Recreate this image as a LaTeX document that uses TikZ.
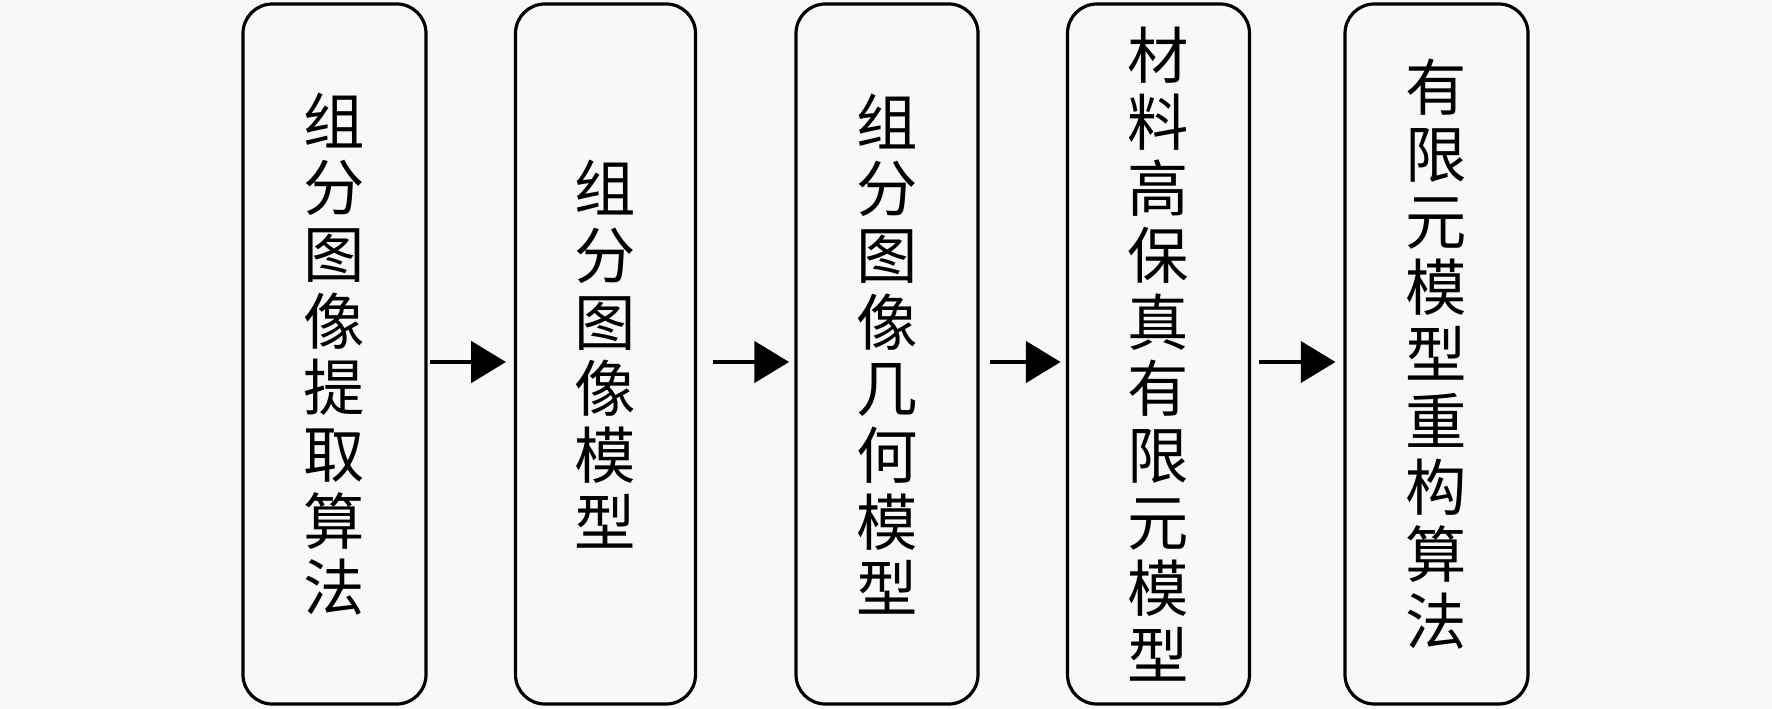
\documentclass[tikz,border=0pt]{standalone}
\usepackage{fontspec}
\newfontfamily\cjk{Noto Sans CJK SC}
\usetikzlibrary{arrows.meta}
\begin{document}
\begin{tikzpicture}[x=0.75pt,y=-0.75pt,
  stagebox/.style={draw=black,line width=2.4pt,rounded corners=22pt,inner sep=0pt},
  vtext/.style={align=center,font=\cjk\fontsize{46}{50}\selectfont,inner sep=0pt},
  flow/.style={line width=2.4pt,-{Triangle[length=26pt,width=31pt]},shorten >=0pt}]
\fill[fill={rgb,255:red,248;green,248;blue,248}] (0,0) rectangle (1772,709);
\useasboundingbox (0,0) rectangle (1772,709);
\node[stagebox,minimum width=183*0.75pt,minimum height=700*0.75pt] (b1) at (334.5,354) {};
\node[stagebox,minimum width=180*0.75pt,minimum height=700*0.75pt] (b2) at (605.5,354) {};
\node[stagebox,minimum width=182*0.75pt,minimum height=700*0.75pt] (b3) at (887,354) {};
\node[stagebox,minimum width=182*0.75pt,minimum height=700*0.75pt] (b4) at (1158.5,354) {};
\node[stagebox,minimum width=183*0.75pt,minimum height=700*0.75pt] (b5) at (1436.5,354) {};
\node[vtext] (t1) at (b1) {组\\分\\图\\像\\提\\取\\算\\法};
\node[vtext] (t2) at (b2) {组\\分\\图\\像\\模\\型};
\node[vtext] (t3) at (b3) {组\\分\\图\\像\\几\\何\\模\\型};
\node[vtext] (t4) at (b4) {材\\料\\高\\保\\真\\有\\限\\元\\模\\型};
\node[vtext] (t5) at (b5) {有\\限\\元\\模\\型\\重\\构\\算\\法};
\draw[flow] ([xshift=2pt,yshift=-6pt]b1.east) -- ([xshift=-6pt,yshift=-6pt]b2.west);
\draw[flow] ([xshift=12pt,yshift=-6pt]b2.east) -- ([xshift=-4pt,yshift=-6pt]b3.west);
\draw[flow] ([xshift=8pt,yshift=-6pt]b3.east) -- ([xshift=-4pt,yshift=-6pt]b4.west);
\draw[flow] ([xshift=6pt,yshift=-6pt]b4.east) -- ([xshift=-6pt,yshift=-6pt]b5.west);
\end{tikzpicture}
\end{document}
